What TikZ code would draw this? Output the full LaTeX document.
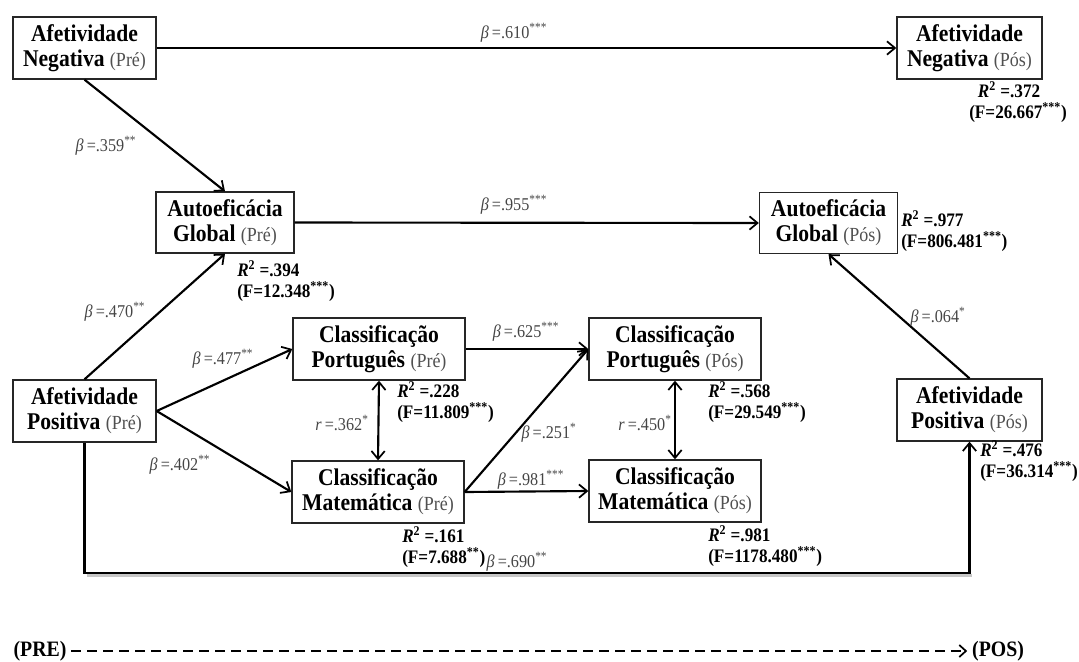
\documentclass[tikz,border=0pt]{standalone}
\usepackage{fontspec}
\setmainfont{Liberation Serif}[FakeStretch=0.9]
\usetikzlibrary{arrows.meta}
\definecolor{subgray}{HTML}{505050}
\definecolor{lblgray}{HTML}{454545}
\newcommand{\tm}[1]{{\mdseries\fontsize{15}{16}\selectfont\color{subgray}(#1)}}
\newcommand{\bet}{\textit{β}}
\newcommand{\rsq}{\textit{R}\textsuperscript{2}}
\begin{document}
\begin{tikzpicture}[x=0.75pt,y=-0.75pt,
  box/.style={draw=black!85, line width=1pt, align=center, inner sep=0pt, minimum height=46.5pt,
    font=\fontsize{18}{18.8}\selectfont\bfseries},
  wa/.style={box, minimum width=107.25pt},
  wg/.style={box, minimum width=103.5pt, minimum height=45.75pt},
  wc/.style={box, minimum width=129pt},
  conn/.style={line width=1.6pt, -{Straight Barb[length=6pt,width=10pt,line width=1.3pt]}},
  dconn/.style={line width=1.6pt, {Straight Barb[length=6pt,width=10pt,line width=1.3pt]}-{Straight Barb[length=6pt,width=10pt,line width=1.3pt]}},
  lbl/.style={font=\fontsize{13.5}{15}\selectfont, text=lblgray, inner sep=0pt},
  stat/.style={font=\fontsize{14.3}{15.75}\selectfont\bfseries, align=left, anchor=west, inner sep=0pt},
  prepos/.style={font=\fontsize{16.5}{18}\selectfont\bfseries, inner sep=3.5pt},
]
\useasboundingbox (0,0) rectangle (1079,661);

% nodes
\node[wa] (ANpre) at (84.5,48) {Afetividade\\Negativa \tm{Pré}};
\node[wa, minimum width=108.75pt] (ANpos) at (969.5,48) {Afetividade\\Negativa \tm{Pós}};
\node[wg] (AGpre) at (225,222.5) {Autoeficácia\\Global \tm{Pré}};
\node[wg] (AGpos) at (828.5,223) {Autoeficácia\\Global \tm{Pós}};
\node[wa] (APpre) at (84.5,411) {Afetividade\\Positiva \tm{Pré}};
\node[wa, minimum width=108.75pt] (APpos) at (969.5,410) {Afetividade\\Positiva \tm{Pós}};
\node[wc] (CPpre) at (379,349) {Classificação\\Português \tm{Pré}};
\node[wc] (CMpre) at (378,492) {Classificação\\Matemática \tm{Pré}};
\node[wc] (CPpos) at (675,349) {Classificação\\Português \tm{Pós}};
\node[wc] (CMpos) at (675,491) {Classificação\\Matemática \tm{Pós}};

\coordinate (bot) at (520,573);

% connectors
\draw[conn] (ANpre.east) -- (ANpos.west);
\draw[conn] (ANpre.south) -- (AGpre.north);
\draw[conn] (AGpre.east) -- (AGpos.west);
\draw[conn] (APpre.north) -- (AGpre.south);
\draw[conn] (APpre.east) -- (CPpre.west);
\draw[conn] (APpre.east) -- (CMpre.west);
\draw[conn] (CPpre.east) -- (CPpos.west);
\draw[conn] (CMpre.east) -- (CPpos.west);
\draw[conn] (CMpre.east) -- (CMpos.west);
\draw[dconn] (CPpre.south) -- (CMpre.north);
\draw[dconn] (CPpos.south) -- (CMpos.north);
\draw[conn] (APpos.north) -- (AGpos.south);
\draw[line width=2pt, black!22] ([xshift=2pt,yshift=-1.8pt]APpre.south |- bot) -- ([xshift=2pt,yshift=-1.8pt]APpos.south |- bot);
\draw[conn] (APpre.south) |- (bot) -| (APpos.south);

% path labels
\node[lbl] (l1) at (514,33) {\bet\,=.610\textsuperscript{***}};
\node[lbl] (l2) at (106,146) {\bet\,=.359\textsuperscript{**}};
\node[lbl] (l3) at (514,205) {\bet\,=.955\textsuperscript{***}};
\node[lbl] (l4) at (115,312) {\bet\,=.470\textsuperscript{**}};
\node[lbl] (l5) at (223,359) {\bet\,=.477\textsuperscript{**}};
\node[lbl] (l6) at (180,465) {\bet\,=.402\textsuperscript{**}};
\node[lbl] (l7) at (342,423) {\textit{r}\,=.362\textsuperscript{*}};
\node[lbl] (l8) at (526,332) {\bet\,=.625\textsuperscript{***}};
\node[lbl] (l9) at (549,433) {\bet\,=.251\textsuperscript{*}};
\node[lbl] (l10) at (531,480) {\bet\,=.981\textsuperscript{***}};
\node[lbl] (l11) at (645,423) {\textit{r}\,=.450\textsuperscript{*}};
\node[lbl] (l12) at (938,317) {\bet\,=.064\textsuperscript{*}};
\node[lbl] (l13) at (517,562) {\bet\,=.690\textsuperscript{**}};

% R2 statistics
\node[stat] (s1) at (969,102.5) {\hspace*{6.5pt}\rsq{} =.372\\(F=26.667\textsuperscript{***})};
\node[stat] (s2) at (237,281.5) {\rsq{} =.394\\(F=12.348\textsuperscript{***})};
\node[stat] (s3) at (901,231.5) {\rsq{} =.977\\(F=806.481\textsuperscript{***})};
\node[stat] (s4) at (397,402) {\rsq{} =.228\\(F=11.809\textsuperscript{***})};
\node[stat] (s5) at (402,547) {\rsq{} =.161\\(F=7.688\textsuperscript{**})};
\node[stat] (s6) at (708,402.5) {\rsq{} =.568\\(F=29.549\textsuperscript{***})};
\node[stat] (s7) at (708,546) {\rsq{} =.981\\(F=1178.480\textsuperscript{***})};
\node[stat] (s8) at (980,461.5) {\rsq{} =.476\\(F=36.314\textsuperscript{***})};

% time axis
\node[prepos] (PRE) at (40,651) {(PRE)};
\node[prepos] (POS) at (998,651) {(POS)};
\draw[line width=1.8pt, dash pattern=on 7.5pt off 4.5pt, -{Straight Barb[length=5pt,width=9pt,line width=1.3pt]}] (PRE.east) -- (POS.west);
\end{tikzpicture}
\end{document}
